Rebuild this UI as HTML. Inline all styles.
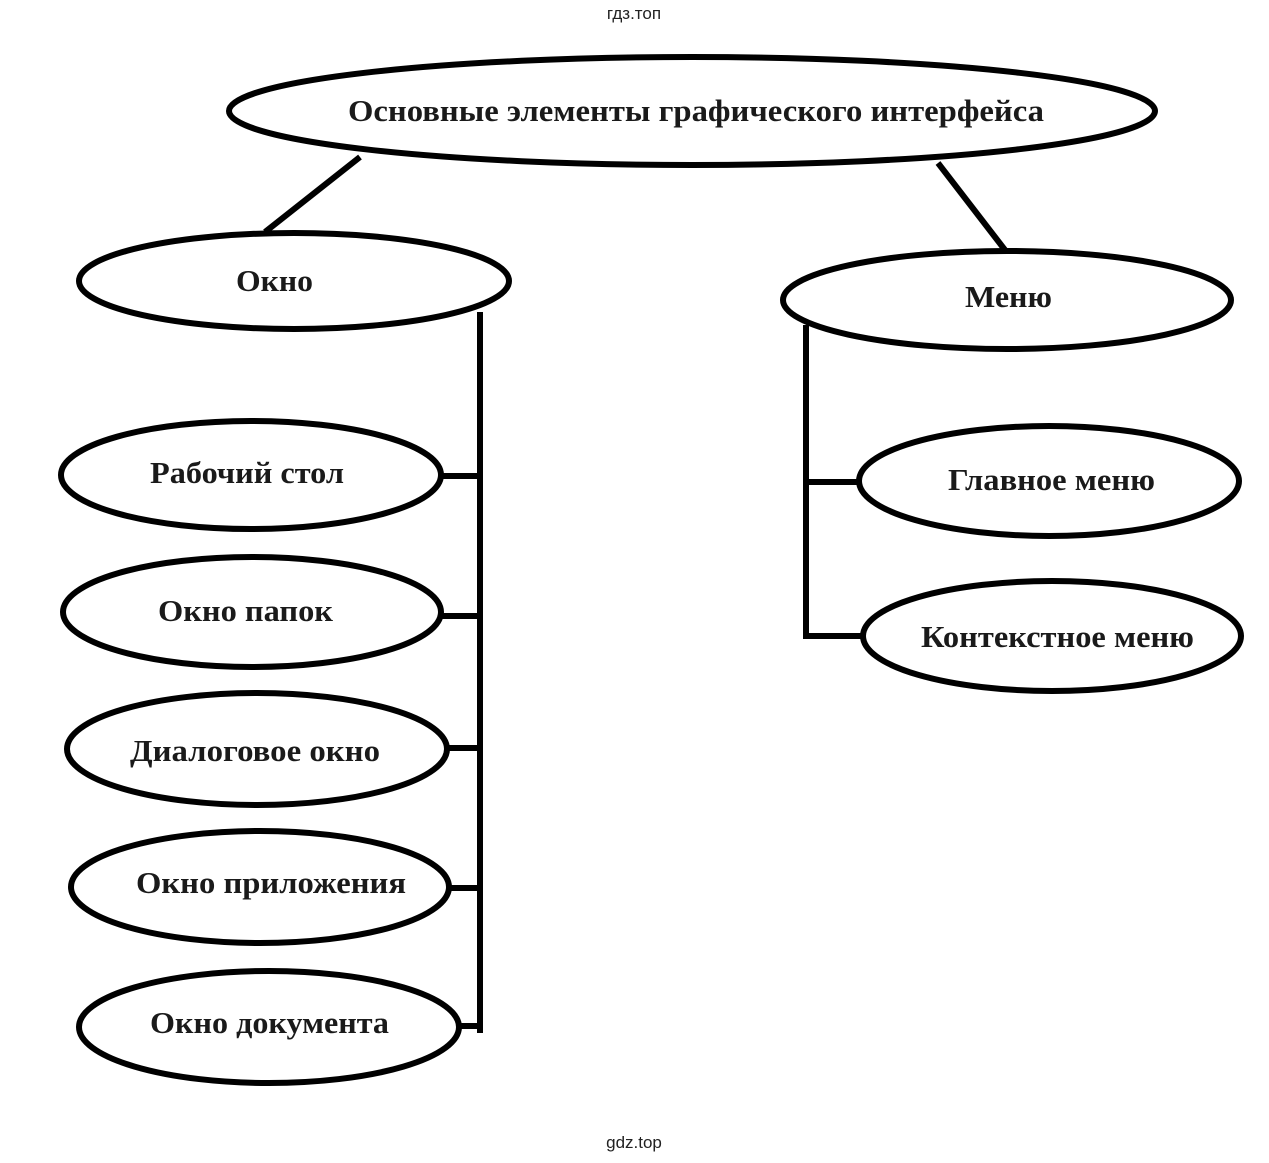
<!DOCTYPE html>
<html><head><meta charset="utf-8"><style>
html,body{margin:0;padding:0;background:#fff;}
svg{display:block;}
</style></head><body>
<svg width="1269" height="1163" viewBox="0 0 1269 1163" xmlns="http://www.w3.org/2000/svg">
<g fill="none" stroke="#000" stroke-width="6">
<ellipse cx="692" cy="111" rx="463" ry="54"/>
<ellipse cx="294" cy="281" rx="215" ry="48"/>
<ellipse cx="1007" cy="300" rx="224" ry="49"/>
<ellipse cx="251" cy="475" rx="190" ry="54"/>
<ellipse cx="252" cy="612" rx="189" ry="55"/>
<ellipse cx="257" cy="749" rx="190" ry="56"/>
<ellipse cx="260" cy="887" rx="189" ry="56"/>
<ellipse cx="269" cy="1027" rx="190" ry="56"/>
<ellipse cx="1049" cy="481" rx="190" ry="55"/>
<ellipse cx="1052" cy="636" rx="189" ry="55"/>
<line x1="360" y1="157" x2="265" y2="232"/>
<line x1="938" y1="163" x2="1005" y2="250"/>
<line x1="480" y1="312" x2="480" y2="1033"/>
<line x1="441" y1="476" x2="480" y2="476"/>
<line x1="441" y1="616" x2="480" y2="616"/>
<line x1="446" y1="748" x2="480" y2="748"/>
<line x1="449" y1="888" x2="480" y2="888"/>
<line x1="458" y1="1026" x2="480" y2="1026"/>
<line x1="806" y1="325" x2="806" y2="639"/>
<line x1="803" y1="482" x2="860" y2="482"/>
<line x1="806" y1="636" x2="863" y2="636"/>
</g>
<g font-family="'Liberation Serif','Noto Serif CJK SC',serif" font-weight="bold" font-size="31" fill="#1a1a1a" lengthAdjust="spacingAndGlyphs">
<text x="348" y="121" textLength="696" lengthAdjust="spacingAndGlyphs">Основные элементы графического интерфейса</text>
<text x="236" y="291" textLength="77" lengthAdjust="spacingAndGlyphs">Окно</text>
<text x="965" y="307" textLength="87" lengthAdjust="spacingAndGlyphs">Меню</text>
<text x="150" y="483" textLength="194" lengthAdjust="spacingAndGlyphs">Рабочий стол</text>
<text x="158" y="621" textLength="175" lengthAdjust="spacingAndGlyphs">Окно папок</text>
<text x="130" y="761" textLength="250" lengthAdjust="spacingAndGlyphs">Диалоговое окно</text>
<text x="136" y="893" textLength="270" lengthAdjust="spacingAndGlyphs">Окно приложения</text>
<text x="150" y="1033" textLength="239" lengthAdjust="spacingAndGlyphs">Окно документа</text>
<text x="948" y="490" textLength="207" lengthAdjust="spacingAndGlyphs">Главное меню</text>
<text x="921" y="647" textLength="273" lengthAdjust="spacingAndGlyphs">Контекстное меню</text>
</g>
<g font-family="'Liberation Sans',sans-serif" font-size="17" fill="#222" text-anchor="middle">
<text x="634" y="19">гдз.топ</text>
<text x="634" y="1148">gdz.top</text>
</g>
</svg>
</body></html>
